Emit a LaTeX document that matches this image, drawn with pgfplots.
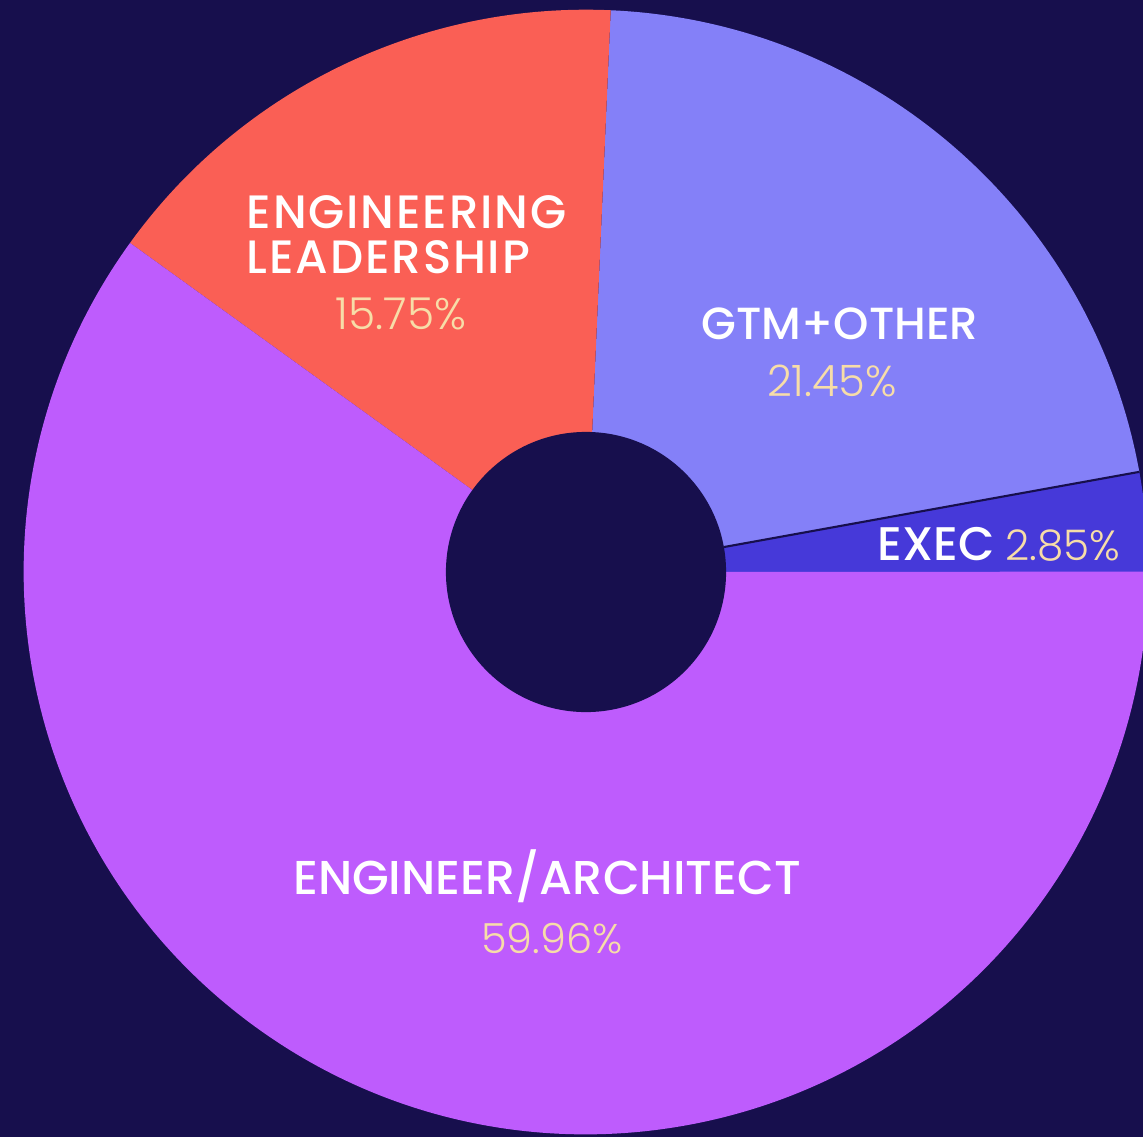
\documentclass[border=0pt]{standalone}
\usepackage{fontspec}
\setmainfont{Poppins}
\newfontfamily\labfont{Poppins Medium}
\newfontfamily\labfontsp{Poppins Medium}[LetterSpace=4]
\newfontfamily\pctfont{Poppins Light}
\usepackage{pgfplots}
\pgfplotsset{compat=1.18}
\definecolor{bg}{HTML}{170F4D}
\definecolor{execc}{HTML}{4639D9}
\definecolor{gtmc}{HTML}{8480F8}
\definecolor{leadc}{HTML}{FA5F55}
\definecolor{engc}{HTML}{BE5CFD}
\definecolor{pct}{HTML}{F7DDA8}
\newcommand\R{5.62cm}
\newcommand\Ri{1.40cm}
% wedge: start cumulative %, end cumulative %, colour
\newcommand\piewedge[3]{\fill[#3] (axis cs:586,572) -- ([shift={({#1*3.6}:\R)}]axis cs:586,572) arc[start angle={#1*3.6}, end angle={#2*3.6}, radius=\R] -- cycle;}
\begin{document}
\begin{tikzpicture}
\begin{axis}[name=ax, hide axis, scale only axis, x=0.01cm, y=0.01cm,
  xmin=0, xmax=1143, ymin=0, ymax=1137, y dir=reverse, clip=true]
\fill[bg] (rel axis cs:0,0) rectangle (rel axis cs:1,1);
% values: EXEC 2.85, GTM+OTHER 21.45, ENGINEERING LEADERSHIP 15.75, ENGINEER/ARCHITECT 59.96
\piewedge{0}{2.85}{execc}
\piewedge{2.85}{24.30}{gtmc}
\piewedge{24.30}{40.05}{leadc}
\piewedge{40.05}{100.01}{engc}
\draw[bg, line width=0.6pt] ([shift={(10.26:\Ri)}]axis cs:586,572) -- ([shift={(10.26:\R)}]axis cs:586,572);
\fill[bg] (axis cs:586,572) circle[radius=\Ri];
\node[anchor=base west, inner sep=0, text=white, font=\labfontsp\fontsize{13.3}{12}\selectfont] at (axis cs:246,228) {ENGINEERING};
\node[anchor=base west, inner sep=0, text=white, font=\labfontsp\fontsize{13.3}{12}\selectfont] at (axis cs:246,273) {LEADERSHIP};
\node[anchor=base, inner sep=0, text=pct, font=\pctfont\fontsize{12.5}{12}\selectfont] at (axis cs:401,329) {15.75\%};
\node[anchor=base, inner sep=0, text=white, font=\labfont\fontsize{12.8}{12}\selectfont] at (axis cs:840,339) {GTM+OTHER};
\node[anchor=base, inner sep=0, text=pct, font=\pctfont\fontsize{12.3}{12}\selectfont] at (axis cs:832,396) {21.45\%};
\node[anchor=base west, inner sep=0, text=white, font=\labfont\fontsize{13.4}{12}\selectfont] at (axis cs:877,560) {EXEC};
\node[anchor=base west, inner sep=0, text=pct, font=\pctfont\fontsize{12}{12}\selectfont] at (axis cs:1005,560) {2.85\%};
\node[anchor=base, inner sep=0, text=white, font=\labfont\fontsize{13.5}{12}\selectfont] at (axis cs:547,894) {ENGINEER/ARCHITECT};
\node[anchor=base, inner sep=0, text=pct, font=\pctfont\fontsize{11.8}{12}\selectfont] at (axis cs:552,953) {59.96\%};
\end{axis}
\pgfresetboundingbox
\path (ax.south west) rectangle (ax.north east);
\end{tikzpicture}
\end{document}
